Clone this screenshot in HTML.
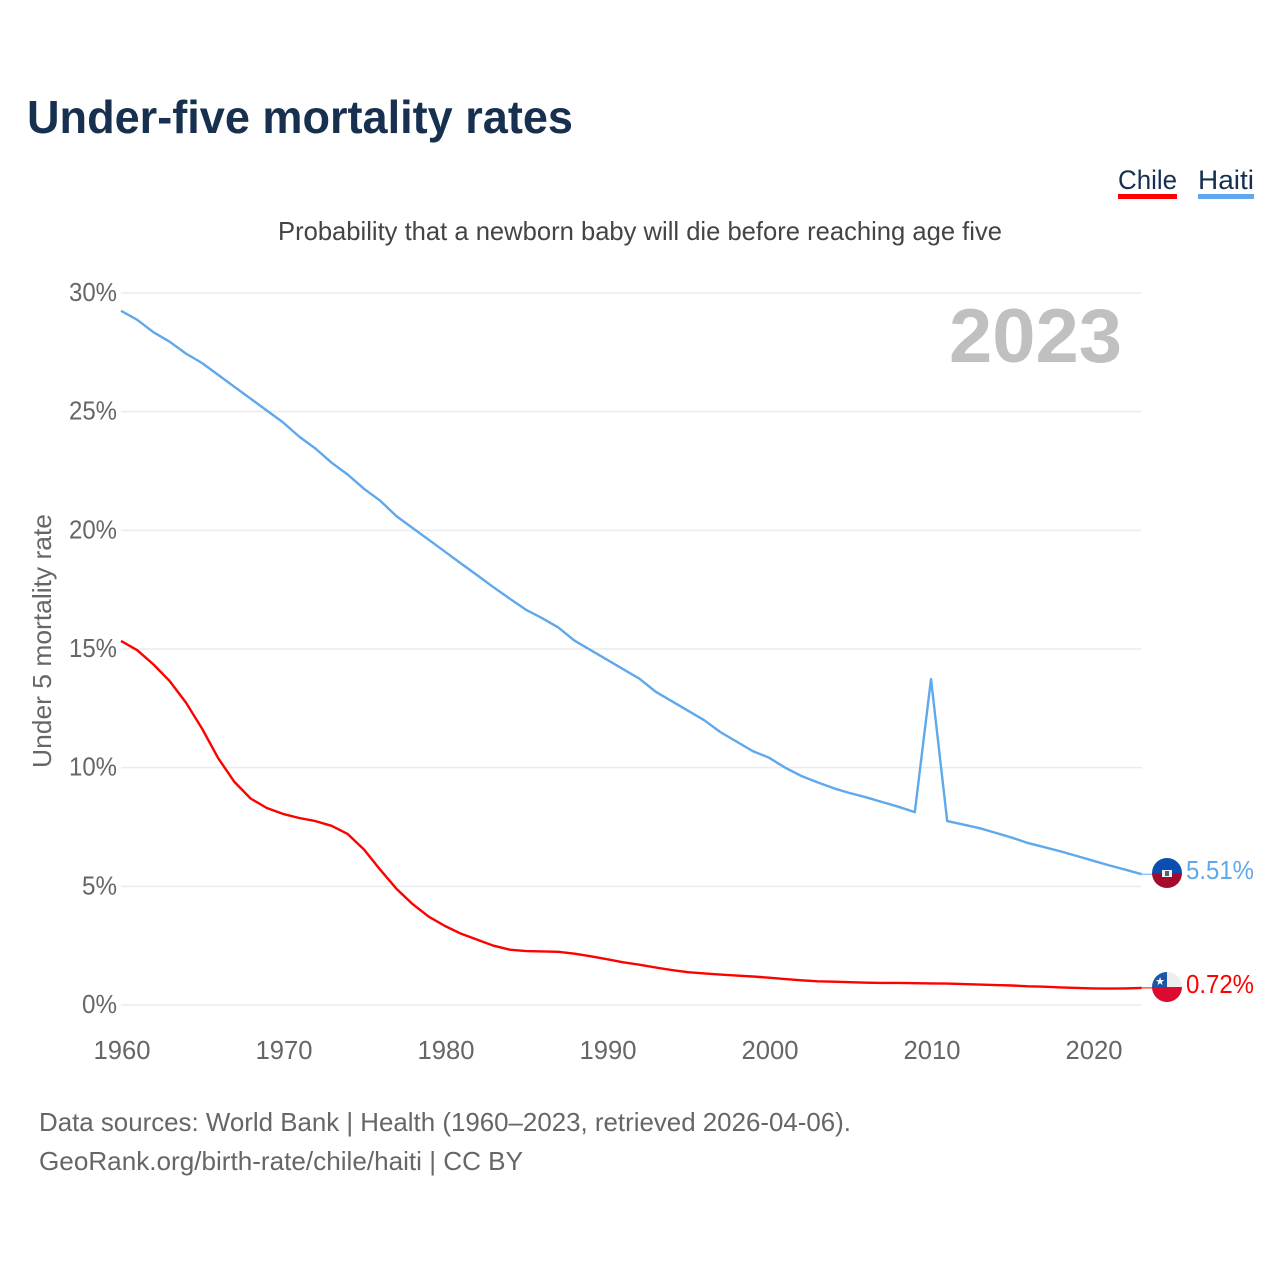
<!DOCTYPE html>
<html lang="en">
<head>
<meta charset="utf-8">
<title>Under-five mortality rates</title>
<style>
html,body{margin:0;padding:0;background:#fff}
svg{display:block;font-family:"Liberation Sans",sans-serif}
</style>
</head>
<body>
<svg id="chart" width="1280" height="1280" viewBox="0 0 1280 1280" xmlns="http://www.w3.org/2000/svg">
  <defs>
    <clipPath id="haiti-clip"><circle cx="1167" cy="873" r="15"/></clipPath>
    <clipPath id="chile-clip"><circle cx="1167" cy="987" r="15"/></clipPath>
  </defs>
  <rect width="1280" height="1280" fill="#fff"/>
  <text x="27" y="133" font-size="46" font-weight="700" fill="#17304f" textLength="546" lengthAdjust="spacingAndGlyphs">Under-five mortality rates</text>
  <text x="278" y="240" font-size="26" fill="#444" textLength="724" lengthAdjust="spacingAndGlyphs">Probability that a newborn baby will die before reaching age five</text>

  <g>
    <text x="1118" y="189" font-size="27" fill="#17304f" textLength="59" lengthAdjust="spacingAndGlyphs">Chile</text>
    <rect x="1118" y="194" width="59" height="5" fill="#ff0000"/>
  </g>
  <g>
    <text x="1198" y="189" font-size="27" fill="#17304f" textLength="56" lengthAdjust="spacingAndGlyphs">Haiti</text>
    <rect x="1198" y="194" width="56" height="5" fill="#60a8ec"/>
  </g>

  <g id="grid"></g>
  <g id="y-labels"></g>
  <g id="x-labels"></g>

  <text transform="translate(51,768) rotate(-90)" font-size="26" fill="#666" textLength="254" lengthAdjust="spacingAndGlyphs">Under 5 mortality rate</text>
  <text x="949" y="362" font-size="76" font-weight="700" fill="#c0c0c0" textLength="173" lengthAdjust="spacingAndGlyphs">2023</text>

  <g id="lines"></g>

  <g clip-path="url(#haiti-clip)">
    <rect x="1152" y="858" width="30" height="15" fill="#0a4fb0"/>
    <rect x="1152" y="873" width="30" height="15" fill="#a50a2c"/>
    <rect x="1162" y="870" width="10" height="7" fill="#f2f2f2"/>
    <rect x="1165" y="871" width="4" height="5" fill="#4a6a70"/>
  </g>
  <g clip-path="url(#chile-clip)">
    <rect x="1152" y="972" width="30" height="15" fill="#eeeeee"/>
    <rect x="1152" y="972" width="15" height="15" fill="#1c56a6"/>
    <rect x="1152" y="987" width="30" height="15" fill="#dc0a2e"/>
    <text x="1160" y="985" font-size="11" fill="#fff" text-anchor="middle">★</text>
  </g>

  <text id="haiti-label" x="1186" y="879" font-size="26" fill="#60a8ec" textLength="68" lengthAdjust="spacingAndGlyphs">5.51%</text>
  <text id="chile-label" x="1186" y="993" font-size="26" fill="#ff0000" textLength="68" lengthAdjust="spacingAndGlyphs">0.72%</text>

  <text x="39" y="1131" font-size="26" fill="#666" textLength="812" lengthAdjust="spacingAndGlyphs">Data sources: World Bank | Health (1960–2023, retrieved 2026-04-06).</text>
  <text x="39" y="1170" font-size="26" fill="#666" textLength="484" lengthAdjust="spacingAndGlyphs">GeoRank.org/birth-rate/chile/haiti | CC BY</text>
</svg>
<script>
const startYear = 1960;
const yTicks = [0, 5, 10, 15, 20, 25, 30];
const xTicks = [1960, 1970, 1980, 1990, 2000, 2010, 2020];
const haitiValues = [
  29.25,28.87,28.35,27.95,27.45,27.05,26.55,26.05,25.55,25.05,
  24.55,23.95,23.45,22.85,22.35,21.75,21.25,20.6,20.1,19.6,
  19.1,18.6,18.1,17.6,17.12,16.65,16.3,15.9,15.35,14.95,
  14.55,14.15,13.75,13.2,12.8,12.4,12.0,11.5,11.1,10.7,
  10.42,10.0,9.65,9.38,9.13,8.93,8.75,8.55,8.35,8.13,
  13.73,7.75,7.6,7.45,7.25,7.05,6.82,6.65,6.47,6.28,
  6.08,5.88,5.7,5.51
];
const chileValues = [
  15.34,14.95,14.35,13.65,12.75,11.65,10.4,9.4,8.7,8.3,
  8.05,7.88,7.75,7.55,7.2,6.55,5.7,4.9,4.25,3.72,
  3.33,3.0,2.75,2.5,2.33,2.27,2.26,2.24,2.16,2.05,
  1.93,1.8,1.7,1.58,1.47,1.38,1.33,1.28,1.24,1.2,
  1.15,1.09,1.04,1.0,0.98,0.96,0.94,0.93,0.93,0.92,
  0.91,0.9,0.88,0.86,0.84,0.82,0.79,0.77,0.74,0.72,
  0.7,0.69,0.7,0.72
];

const NS = 'http://www.w3.org/2000/svg';
const xScale = function (year) { return 121 + (year - 1960) * 16.2; };
const yScale = function (pct) { return 1005 - pct * 23.733; };

function makeEl(tag, attrs, parent) {
  const el = document.createElementNS(NS, tag);
  Object.keys(attrs).forEach(function (k) { el.setAttribute(k, attrs[k]); });
  parent.appendChild(el);
  return el;
}

const grid = document.getElementById('grid');
const yLabels = document.getElementById('y-labels');
const xLabels = document.getElementById('x-labels');
const lines = document.getElementById('lines');

yTicks.forEach(function (t) {
  const line = makeEl('line', { x1: 121, x2: xScale(2023), y1: yScale(t), y2: yScale(t), stroke: '#ebebeb', 'stroke-width': 1.5 }, grid);
  
  
  const label = makeEl('text', { x: 117, y: yScale(t) + 8, 'font-size': 26, fill: '#666', 'text-anchor': 'end', textLength: t < 10 ? 35 : 48, lengthAdjust: 'spacingAndGlyphs' }, yLabels);
  label.textContent = t + '%';
  
  
});

xTicks.forEach(function (t) {
  const label = makeEl('text', { x: xScale(t) + 1, y: 1059, 'font-size': 26, fill: '#666', 'text-anchor': 'middle', textLength: 57, lengthAdjust: 'spacingAndGlyphs' }, xLabels);
  label.textContent = String(t);
  
  
});

function drawSeries(values, color, name) {
  const pts = values.map(function (v, i) { return xScale(startYear + i).toFixed(1) + ',' + yScale(v).toFixed(1); });
  const path = makeEl('polyline', { points: pts.join(' '), fill: 'none', stroke: color, 'stroke-width': 2.4, 'stroke-linejoin': 'round' }, lines);
  
  
  const last = values[values.length - 1];
  const lastX = xScale(startYear + values.length - 1);
  const leader = makeEl('line', { x1: lastX, x2: 1153, y1: yScale(last), y2: yScale(last), stroke: color, 'stroke-width': 1 }, lines);
  
  
}

drawSeries(haitiValues, '#60a8ec', 'haiti');
drawSeries(chileValues, '#ff0000', 'chile');

document.getElementById('haiti-label').textContent = haitiValues[haitiValues.length - 1].toFixed(2) + '%';
document.getElementById('chile-label').textContent = chileValues[chileValues.length - 1].toFixed(2) + '%';
</script>
</body>
</html>
